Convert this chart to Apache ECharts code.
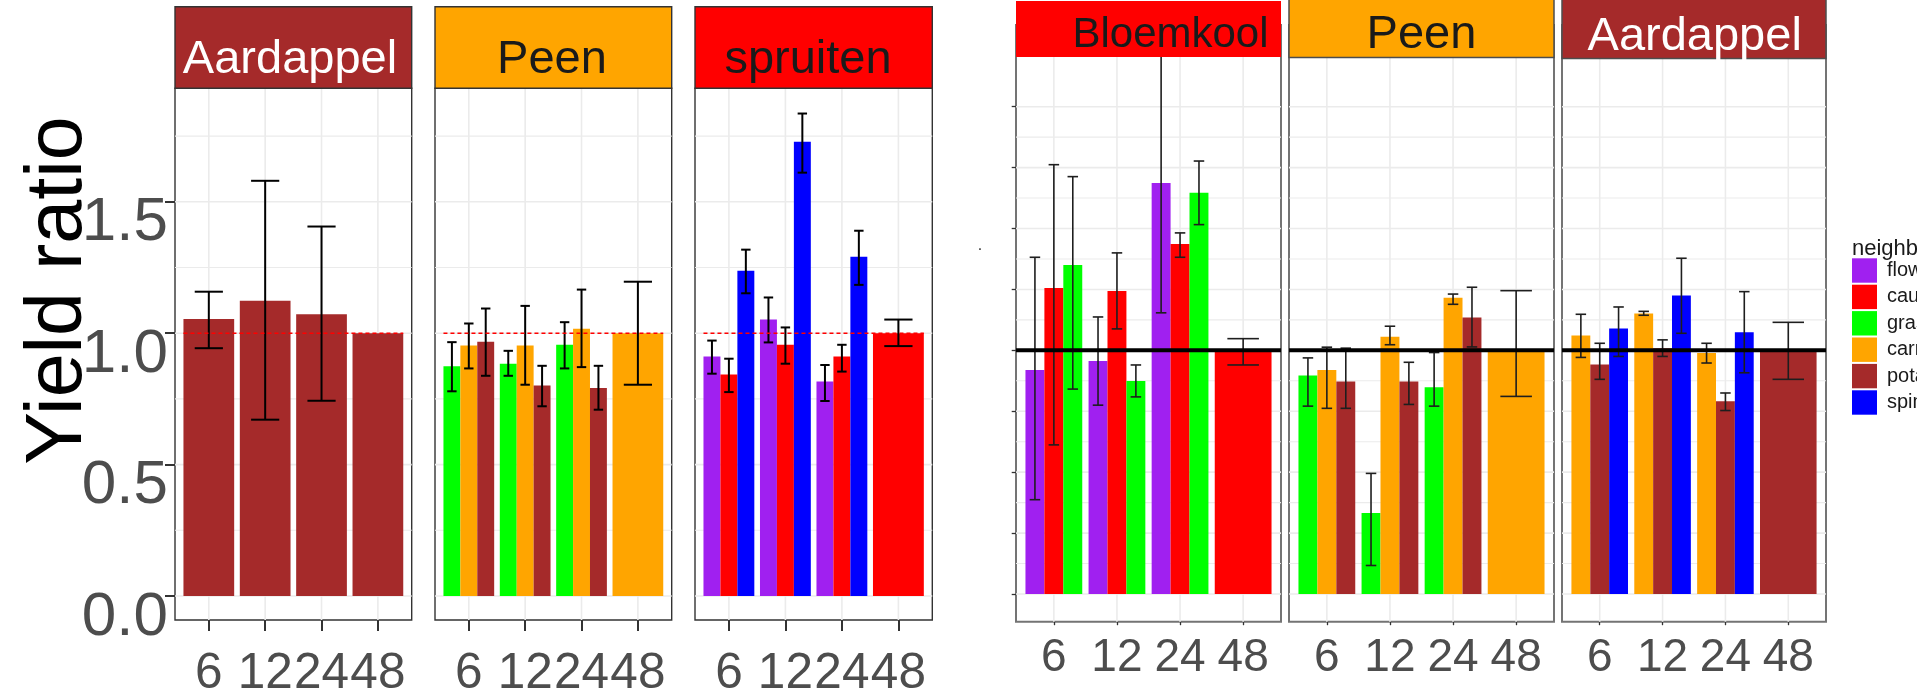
<!DOCTYPE html>
<html>
<head>
<meta charset="utf-8">
<script src="https://cdn.jsdelivr.net/npm/echarts@6/dist/echarts.min.js"></script>
<style>
  html, body { margin: 0; padding: 0; background: #fff; }
  #chart { width: 1917px; height: 690px; }
</style>
</head>
<body>
<div id="chart"></div>
<script>
// ---- data ---------------------------------------------------------------
const hours = ['6', '12', '24', '48'];
const neighbours = ['flowers', 'cauliflower', 'grass', 'carrot', 'potato', 'spinach'];
const neighbourColors = ['#A020F0', '#FF0000', '#00FF00', '#FFA500', '#A52A2A', '#0000FF'];
const referenceRatio = 1;

// rows: [hour, neighbour, yield ratio, lower, upper]
const leftAardappel = [
  ['6', 'potato', 1.054, 0.943, 1.158],
  ['12', 'potato', 1.124, 0.671, 1.580],
  ['24', 'potato', 1.072, 0.743, 1.406],
  ['48', 'potato', 1.000, null, null]
];
const leftPeen = [
  ['6', 'grass', 0.874, 0.779, 0.966],
  ['6', 'carrot', 0.953, 0.866, 1.037],
  ['6', 'potato', 0.968, 0.838, 1.094],
  ['12', 'grass', 0.884, 0.838, 0.933],
  ['12', 'carrot', 0.953, 0.804, 1.104],
  ['12', 'potato', 0.801, 0.722, 0.876],
  ['24', 'grass', 0.956, 0.866, 1.042],
  ['24', 'carrot', 1.017, 0.871, 1.166],
  ['24', 'potato', 0.792, 0.709, 0.876],
  ['48', 'carrot', 1.000, 0.804, 1.196]
];
const leftSpruiten = [
  ['6', 'flowers', 0.911, 0.846, 0.972],
  ['6', 'cauliflower', 0.843, 0.776, 0.903],
  ['6', 'spinach', 1.238, 1.152, 1.318],
  ['12', 'flowers', 1.052, 0.965, 1.136],
  ['12', 'cauliflower', 0.956, 0.884, 1.022],
  ['12', 'spinach', 1.729, 1.611, 1.836],
  ['24', 'flowers', 0.816, 0.742, 0.879],
  ['24', 'cauliflower', 0.911, 0.854, 0.956],
  ['24', 'spinach', 1.291, 1.184, 1.390],
  ['48', 'cauliflower', 1.000, 0.951, 1.052]
];
const rightBloemkool = [
  ['6', 'flowers', 0.919, 0.387, 1.382],
  ['6', 'cauliflower', 1.256, 0.612, 1.762],
  ['6', 'grass', 1.350, 0.841, 1.713],
  ['12', 'flowers', 0.956, 0.775, 1.137],
  ['12', 'cauliflower', 1.244, 1.088, 1.400],
  ['12', 'grass', 0.874, 0.809, 0.940],
  ['24', 'flowers', 1.687, 1.154, 2.280],
  ['24', 'cauliflower', 1.436, 1.382, 1.482],
  ['24', 'grass', 1.647, 1.516, 1.777],
  ['48', 'cauliflower', 1.000, 0.940, 1.048]
];
const rightPeen = [
  ['6', 'grass', 0.897, 0.771, 0.969],
  ['6', 'carrot', 0.919, 0.762, 1.013],
  ['6', 'potato', 0.872, 0.762, 1.009],
  ['12', 'grass', 0.332, 0.117, 0.495],
  ['12', 'carrot', 1.056, 1.023, 1.099],
  ['12', 'potato', 0.872, 0.778, 0.951],
  ['24', 'grass', 0.849, 0.771, 0.991],
  ['24', 'carrot', 1.216, 1.189, 1.231],
  ['24', 'potato', 1.135, 1.014, 1.259],
  ['48', 'carrot', 1.000, 0.811, 1.245]
];
const rightAardappel = [
  ['6', 'carrot', 1.061, 0.971, 1.148],
  ['6', 'potato', 0.942, 0.881, 1.029],
  ['6', 'spinach', 1.090, 0.975, 1.178],
  ['12', 'carrot', 1.151, 1.144, 1.160],
  ['12', 'potato', 1.009, 0.975, 1.043],
  ['12', 'spinach', 1.225, 1.070, 1.378],
  ['24', 'carrot', 0.989, 0.948, 1.029],
  ['24', 'potato', 0.791, 0.753, 0.825],
  ['24', 'spinach', 1.074, 0.908, 1.241],
  ['48', 'potato', 1.000, 0.881, 1.115]
];

// axis breaks and ranges
const leftMajorBreaks = [0, 0.5, 1, 1.5];
const leftMinorBreaks = [0.25, 0.75, 1.25, 1.75];
const rightMajorBreaks = [0, 0.25, 0.5, 0.75, 1, 1.25, 1.5, 1.75, 2];
const rightMinorBreaks = [0.125, 0.375, 0.625, 0.875, 1.125, 1.375, 1.625, 1.875];
const leftRange = [-0.0913, 1.932];
const rightRange = [-0.1137, 2.3353];
const xRange = [0.4, 4.6];

// ---- layout -------------------------------------------------------------
const FONT = "'Liberation Sans', Arial, Helvetica, sans-serif";
const colorOf = nb => neighbourColors[neighbours.indexOf(nb)];

const panels = [
  { label: 'Aardappel', rows: leftAardappel, side: 'left', x0: 175, y0: 88.3, x1: 411.7, y1: 620,
    strip: { fill: '#A52A2A', text: '#FFFFFF', tx: 290 } },
  { label: 'Peen', rows: leftPeen, side: 'left', x0: 435, y0: 88.3, x1: 671.7, y1: 620,
    strip: { fill: '#FFA500', text: '#1A1A1A', tx: 552 } },
  { label: 'spruiten', rows: leftSpruiten, side: 'left', x0: 695, y0: 88.3, x1: 932.3, y1: 620,
    strip: { fill: '#FF0000', text: '#1A1A1A', tx: 808 } },
  { label: 'Bloemkool', rows: rightBloemkool, side: 'right', x0: 1016, y0: 25, x1: 1281, y1: 621.7,
    strip: { fill: '#FF0000', text: '#1A1A1A', tx: 1170.5, top: 1, bottom: 57, stroke: null, size: 42, ty: 35 } },
  { label: 'Peen', rows: rightPeen, side: 'right', x0: 1289, y0: 25, x1: 1554, y1: 621.7,
    strip: { fill: '#FFA500', text: '#1A1A1A', tx: 1421.5, top: -2, bottom: 57.5, stroke: '#4D4D4D', size: 47, ty: 35.5 } },
  { label: 'Aardappel', rows: rightAardappel, side: 'right', x0: 1562, y0: 25, x1: 1826, y1: 621.7,
    strip: { fill: '#A52A2A', text: '#FFFFFF', tx: 1694.7, top: -2, bottom: 58.5, stroke: '#4D4D4D', size: 47, ty: 36.7 } }
];

// dodge positions: slot within hour, number of bars at that hour
function dodge(rows) {
  return rows.map(r => {
    const same = rows.filter(q => q[0] === r[0]);
    return {
      x: hours.indexOf(r[0]) + 1, nb: r[1], ratio: r[2], lo: r[3], hi: r[4],
      slot: same.indexOf(r), n: same.length
    };
  });
}

const grids = [], xAxes = [], yAxes = [], series = [], graphics = [];

panels.forEach((p, gi) => {
  const isLeft = p.side === 'left';
  const yr = isLeft ? leftRange : rightRange;
  const major = isLeft ? leftMajorBreaks : rightMajorBreaks;
  const minor = isLeft ? leftMinorBreaks : rightMinorBreaks;
  const first = gi === 0 || gi === 3;

  grids.push({
    left: p.x0, top: p.y0, width: p.x1 - p.x0, height: p.y1 - p.y0,
    show: true, backgroundColor: '#FFFFFF',
    borderColor: isLeft ? '#333333' : '#747474', borderWidth: isLeft ? 1.4 : 2,
    containLabel: false, outerBoundsMode: 'none'
  });

  xAxes.push({
    gridIndex: gi, type: 'value', min: xRange[0], max: xRange[1], position: 'bottom',
    axisLine: { show: false, onZero: false }, splitLine: { show: false },
    axisTick: {
      show: true, customValues: [1, 2, 3, 4], length: isLeft ? 11 : 3.5,
      lineStyle: { color: '#333333', width: isLeft ? 2 : 1.3 }
    },
    axisLabel: {
      show: true, customValues: [1, 2, 3, 4], hideOverlap: false,
      showMinLabel: true, showMaxLabel: true,
      formatter: v => hours[Math.round(v) - 1] || '',
      fontFamily: FONT, fontSize: isLeft ? 49.5 : 46, color: '#4D4D4D',
      verticalAlign: 'middle', margin: isLeft ? 54 : 37
    }
  });

  yAxes.push({
    gridIndex: gi, type: 'value', min: yr[0], max: yr[1], position: 'left',
    axisLine: { show: false, onZero: false }, splitLine: { show: false },
    axisTick: {
      show: first, customValues: major, length: isLeft ? 10 : 4.3,
      lineStyle: { color: '#333333', width: isLeft ? 2 : 1.3 }
    },
    axisLabel: {
      show: first && isLeft, customValues: major, hideOverlap: false,
      showMinLabel: true, showMaxLabel: true,
      formatter: v => v.toFixed(1),
      fontFamily: FONT, fontSize: 62, color: '#4D4D4D',
      verticalAlign: 'top', lineHeight: 43, margin: 7
    }
  });

  // panel grid lines: kind 0 minor, 1 major (horizontal), 2 vertical
  const gridData = major.map(v => [v, 1]).concat(minor.map(v => [v, 0]))
    .concat(hours.map((h, i) => [i + 1, 2]));
  series.push({
    type: 'custom', xAxisIndex: gi, yAxisIndex: gi, z: 1, silent: true,
    data: gridData,
    renderItem: (params, api) => {
      const v = api.value(0), kind = api.value(1);
      let a, b;
      if (kind === 2) { a = api.coord([v, yr[0]]); b = api.coord([v, yr[1]]); }
      else { a = api.coord([xRange[0], v]); b = api.coord([xRange[1], v]); }
      return {
        type: 'line', shape: { x1: a[0], y1: a[1], x2: b[0], y2: b[1] },
        style: { stroke: '#EBEBEB', lineWidth: kind === 0 ? 1.1 : 1.6 }
      };
    }
  });

  const rows = dodge(p.rows);

  // bars, one series per neighbour so the legend links to them
  neighbours.forEach(nb => {
    const mine = rows.filter(r => r.nb === nb);
    if (!mine.length) return;
    series.push({
      type: 'custom', name: nb, xAxisIndex: gi, yAxisIndex: gi, z: 2,
      itemStyle: { color: colorOf(nb) },
      data: mine.map(r => [r.x, r.ratio, r.slot, r.n]),
      renderItem: (params, api) => {
        const x = api.value(0), v = api.value(1), slot = api.value(2), n = api.value(3);
        const w = 0.9 / n, xs = x - 0.45 + slot * w;
        const a = api.coord([xs, 0]), b = api.coord([xs + w, v]);
        return {
          type: 'rect',
          shape: { x: a[0], y: Math.min(a[1], b[1]), width: b[0] - a[0], height: Math.abs(a[1] - b[1]) },
          style: { fill: api.visual('color') }
        };
      }
    });
  });

  // error bars
  series.push({
    type: 'custom', name: 'interval', xAxisIndex: gi, yAxisIndex: gi, z: 3, silent: true,
    data: rows.filter(r => r.lo != null).map(r => [r.x, r.lo, r.hi, r.slot, r.n]),
    renderItem: (params, api) => {
      const x = api.value(0), lo = api.value(1), hi = api.value(2), slot = api.value(3), n = api.value(4);
      const cx = x - 0.45 + (slot + 0.5) * (0.9 / n), hw = 0.25 / n;
      const pl = api.coord([cx, lo]), ph = api.coord([cx, hi]);
      const l0 = api.coord([cx - hw, lo]), r0 = api.coord([cx + hw, lo]);
      const l1 = api.coord([cx - hw, hi]), r1 = api.coord([cx + hw, hi]);
      const st = { stroke: isLeft ? '#000000' : '#1E1E1E', lineWidth: isLeft ? 2 : 1.6 };
      return {
        type: 'group', children: [
          { type: 'line', shape: { x1: pl[0], y1: pl[1], x2: ph[0], y2: ph[1] }, style: st },
          { type: 'line', shape: { x1: l0[0], y1: l0[1], x2: r0[0], y2: r0[1] }, style: st },
          { type: 'line', shape: { x1: l1[0], y1: l1[1], x2: r1[0], y2: r1[1] }, style: st }
        ]
      };
    }
  });

  // reference ratio line
  series.push({
    type: 'custom', name: 'reference', xAxisIndex: gi, yAxisIndex: gi, z: 4, silent: true,
    data: [[referenceRatio]],
    encode: { y: 0 },
    renderItem: (params, api) => {
      const v = api.value(0);
      const a = api.coord([isLeft ? 0.55 : xRange[0], v]);
      const b = api.coord([isLeft ? 4.45 : xRange[1], v]);
      return {
        type: 'line', shape: { x1: a[0], y1: a[1], x2: b[0], y2: b[1] },
        style: isLeft
          ? { stroke: '#FF0000', lineWidth: 1.5, lineDash: [4, 3] }
          : { stroke: '#000000', lineWidth: 4 }
      };
    }
  });

  // facet strip
  const s = p.strip;
  const sTop = isLeft ? 6.7 : s.top, sBottom = isLeft ? 88.3 : s.bottom;
  graphics.push({
    type: 'rect', z: 100,
    shape: { x: p.x0, y: sTop, width: p.x1 - p.x0, height: sBottom - sTop },
    style: {
      fill: s.fill,
      stroke: isLeft ? '#333333' : (s.stroke || null),
      lineWidth: isLeft ? 1.4 : 1.5
    }
  });
  graphics.push({
    type: 'text', z: 101,
    style: {
      text: p.label, x: s.tx, y: isLeft ? 60.2 : s.ty,
      fill: s.text, font: `${isLeft ? 47 : s.size}px ${FONT}`,
      align: 'center', verticalAlign: 'middle'
    }
  });
});

// axis title and stray label of the right figure
graphics.push({
  type: 'text', z: 101, x: 59, y: 290.5, rotation: Math.PI / 2,
  style: { text: 'Yield ratio', fill: '#000000', font: `79px ${FONT}`, align: 'center', verticalAlign: 'middle' }
});
graphics.push({
  type: 'text', z: 101,
  style: { text: '.', x: 980, y: 246, fill: '#333333', font: `16px ${FONT}`, align: 'center', verticalAlign: 'middle' }
});
// legend title
graphics.push({
  type: 'text', z: 101,
  style: { text: 'neighbour', x: 1852, y: 248.5, fill: '#1A1A1A', font: `22px ${FONT}`, align: 'left', verticalAlign: 'middle' }
});

const chart = echarts.init(document.getElementById('chart'), null, { renderer: 'canvas' });
chart.setOption({
  animation: false,
  backgroundColor: '#FFFFFF',
  textStyle: { fontFamily: FONT },
  grid: grids,
  xAxis: xAxes,
  yAxis: yAxes,
  legend: {
    data: neighbours, orient: 'vertical', left: 1852, top: 258.3,
    itemWidth: 25, itemHeight: 24.4, itemGap: 2, icon: 'rect', padding: 0,
    selectedMode: false,
    textStyle: { fontFamily: FONT, fontSize: 20, color: '#1A1A1A', padding: [0, 0, 0, 5] }
  },
  graphic: graphics,
  series: series
});
</script>
</body>
</html>
